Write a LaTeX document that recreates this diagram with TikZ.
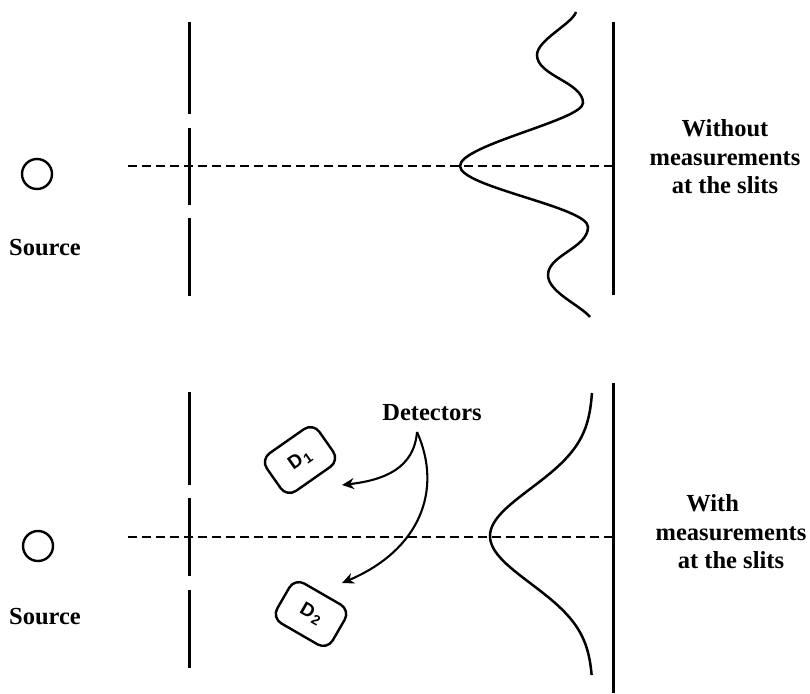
\documentclass[tikz,border=0pt]{standalone}
\usepackage{fontspec}
\setmainfont{Liberation Serif}
\newfontfamily\detfont{Liberation Sans}
\usetikzlibrary{arrows.meta,calc}
\newcommand{\detlabel}[1]{D\kern1.5pt\raisebox{-0.3ex}{\fontsize{14}{14}\selectfont #1}}
\begin{document}
\begin{tikzpicture}[x=1pt,y=-1pt,
  wall/.style={line width=3pt},
  axisline/.style={line width=2.2pt, dash pattern=on 9pt off 5pt},
  wave/.style={line width=2.5pt},
  src/.style={circle, draw, line width=2.4pt, minimum size=30pt, inner sep=0pt},
  lbl/.style={font=\fontsize{24.5}{28.5}\selectfont\bfseries, align=center},
  srclbl/.style={font=\fontsize{24.5}{28}\selectfont\bfseries},
  detbox/.style={draw, line width=2.4pt, rounded corners=11pt,
    minimum width=64pt, minimum height=46pt, inner sep=0pt,
    font=\detfont\bfseries\fontsize{19}{19}\selectfont},
  pointer/.style={line width=2.1pt, -{Stealth[length=12pt,width=11pt]}}]
\useasboundingbox (0,0) rectangle (810,693);

% ---------- upper arrangement: no measurement ----------
\node[src] (srcA) at (37,174) {};
\node[srclbl] (srcAlbl) at (45,248) {Source};

\coordinate (wA1) at (189,22);  \coordinate (wA2) at (189,114);
\coordinate (wA3) at (189,128); \coordinate (wA4) at (189,205);
\coordinate (wA5) at (189,218); \coordinate (wA6) at (189,296);
\draw[wall] (wA1) -- (wA2) (wA3) -- (wA4) (wA5) -- (wA6);

\coordinate (scA1) at (613,22); \coordinate (scA2) at (613,295);
\draw[wall] (scA1) -- (scA2);

\coordinate (axA1) at (128,166); \coordinate (axA2) at (613,166);
\draw[axisline] (axA1) -- (axA2);

% interference pattern
\draw[wave] (576,12) .. controls (572,24) and (537,40) .. (537,55)
  .. controls (537,76) and (583,82) .. (583,103)
  .. controls (583,120) and (460,145) .. (460,166)
  .. controls (460,187) and (588,207) .. (588,227)
  .. controls (588,248) and (548,255) .. (548,275)
  .. controls (548,292) and (580,305) .. (590,317);

\node[lbl] (lblA) at (725,157) {Without\\measurements\\at the slits};

% ---------- lower arrangement: detectors at the slits ----------
\node[src] (srcB) at (38,546) {};
\node[srclbl] (srcBlbl) at (45,617) {Source};

\coordinate (wB1) at (189,392); \coordinate (wB2) at (189,485);
\coordinate (wB3) at (189,498); \coordinate (wB4) at (189,576);
\coordinate (wB5) at (189,590); \coordinate (wB6) at (189,668);
\draw[wall] (wB1) -- (wB2) (wB3) -- (wB4) (wB5) -- (wB6);

\coordinate (scB1) at (613,383); \coordinate (scB2) at (613,693);
\draw[wall] (scB1) -- (scB2);

\coordinate (axB1) at (128,537); \coordinate (axB2) at (613,537);
\draw[axisline] (axB1) -- (axB2);

% single-slit style envelope
\draw[wave] plot[domain=393:675, samples=90, variable=\t]
  ({593-103*exp(-((\t-536)/67)*((\t-536)/67))}, \t);

\node[detbox, rotate=35] (D1) at (300,460) {\detlabel{1}};
\node[detbox, rotate=-30] (D2) at (311,614) {\detlabel{2}};

\node[srclbl] (det) at (432,413) {Detectors};
\coordinate (cusp) at (417,432);
\coordinate (tipA) at ($(D1)+(42,25)$);
\coordinate (tipB) at ($(D2)+(31,-31)$);
\draw[pointer] (cusp) .. controls (414,468) and (385,480) .. (tipA);
\draw[pointer] (cusp) .. controls (443,490) and (420,550) .. (tipB);

\node[lbl] (lblB) at (731,532) {With\hspace*{1.5em}\\measurements\\at the slits};
\end{tikzpicture}
\end{document}
